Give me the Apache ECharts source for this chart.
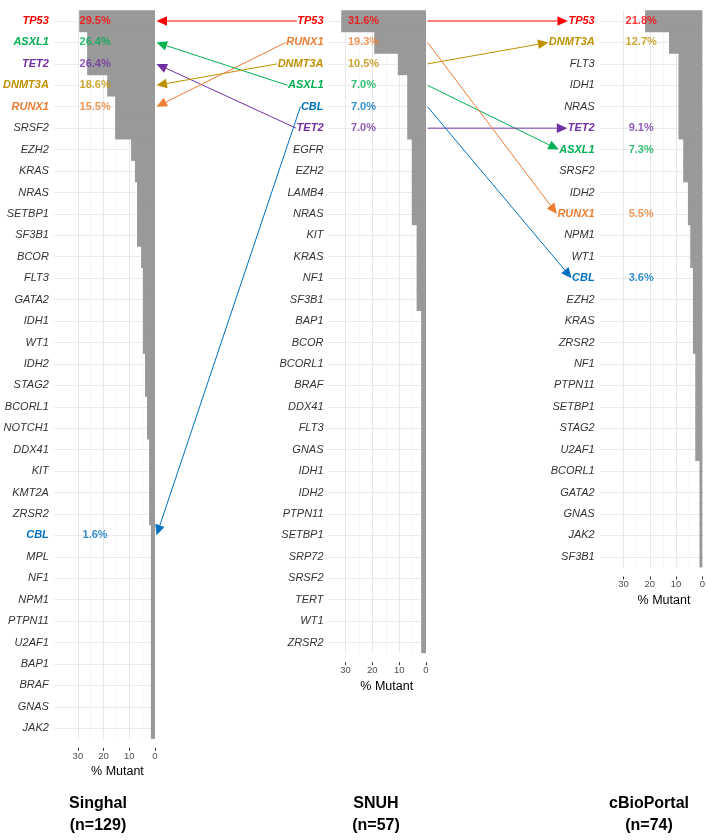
<!DOCTYPE html>
<html>
<head>
<meta charset="utf-8">
<script src="https://cdn.jsdelivr.net/npm/echarts@6/dist/echarts.min.js"></script>
<style>
html,body{margin:0;padding:0;background:#ffffff;}
#chart{width:708px;height:840px;}
</style>
</head>
<body>
<div id="chart"></div>
<script>
// ---------------- data ----------------
const singhalGenes = ['TP53','ASXL1','TET2','DNMT3A','RUNX1','SRSF2','EZH2','KRAS','NRAS','SETBP1','SF3B1','BCOR','FLT3','GATA2','IDH1','WT1','IDH2','STAG2','BCORL1','NOTCH1','DDX41','KIT','KMT2A','ZRSR2','CBL','MPL','NF1','NPM1','PTPN11','U2AF1','BAP1','BRAF','GNAS','JAK2'];
const singhalValues = [29.5,26.4,26.4,18.6,15.5,15.5,9.3,7.8,7.0,7.0,7.0,5.4,4.7,4.7,4.7,4.7,3.9,3.9,3.1,3.1,2.3,2.3,2.3,2.3,1.6,1.6,1.6,1.6,1.6,1.6,1.6,1.6,1.6,1.6];

const snuhGenes = ['TP53','RUNX1','DNMT3A','ASXL1','CBL','TET2','EGFR','EZH2','LAMB4','NRAS','KIT','KRAS','NF1','SF3B1','BAP1','BCOR','BCORL1','BRAF','DDX41','FLT3','GNAS','IDH1','IDH2','PTPN11','SETBP1','SRP72','SRSF2','TERT','WT1','ZRSR2'];
const snuhValues = [31.6,19.3,10.5,7.0,7.0,7.0,5.3,5.3,5.3,5.3,3.5,3.5,3.5,3.5,1.8,1.8,1.8,1.8,1.8,1.8,1.8,1.8,1.8,1.8,1.8,1.8,1.8,1.8,1.8,1.8];

const cbioGenes = ['TP53','DNMT3A','FLT3','IDH1','NRAS','TET2','ASXL1','SRSF2','IDH2','RUNX1','NPM1','WT1','CBL','EZH2','KRAS','ZRSR2','NF1','PTPN11','SETBP1','STAG2','U2AF1','BCORL1','GATA2','GNAS','JAK2','SF3B1'];
const cbioValues = [21.8,12.7,9.1,9.1,9.1,9.1,7.3,7.3,5.5,5.5,4.6,4.6,3.6,3.6,3.6,3.6,2.7,2.7,2.7,2.7,2.7,1.1,1.1,1.1,1.1,1.1];

const cohortNames = ['Singhal','SNUH','cBioPortal'];
const cohortSizes = ['(n=129)','(n=57)','(n=74)'];
const highlightGenes = ['TP53','ASXL1','TET2','DNMT3A','RUNX1','CBL'];
const highlightColors = ['#ff0000','#00b050','#7030a0','#bf9000','#ed7d31','#0070c0'];
const xTickValues = [0,10,20,30];
const axisTitle = '% Mutant';

// ---------------- style / layout ----------------
const FONT = '"Liberation Sans", Arial, Helvetica, sans-serif';
const ROW = 21.43, TOP = 10.3;
const PCT_X = 23.3;
const AH_LEN = 10.5, AH_W = 4.8;
const BAR_COLOR = '#999999';
const HL = {};
highlightGenes.forEach((g,i)=>{ HL[g] = highlightColors[i]; });

const panels = [
  {genes: singhalGenes, values: singhalValues, left: 52.5, zeroX: 155, k: 2.617, margin: 5.5, nameX: 98},
  {genes: snuhGenes, values: snuhValues, left: 328.5, zeroX: 426, k: 2.683, margin: 5, nameX: 376},
  {genes: cbioGenes, values: cbioValues, left: 600, zeroX: 704, k: 2.667, margin: 5.3, nameX: 649}
];

const rich = {};
highlightGenes.forEach(g=>{
  rich[g] = {color: HL[g], fontWeight: 'bold', fontStyle: 'italic', fontSize: 11, fontFamily: FONT};
});

const chart = echarts.init(document.getElementById('chart'), null, {renderer: 'canvas'});
const grids = [], xAxes = [], yAxes = [], series = [];

panels.forEach((p, i) => {
  const n = p.genes.length;
  const maxV = (p.zeroX - p.left) / p.k;
  grids.push({left: p.left, top: TOP, width: p.zeroX - p.left, height: n * ROW, containLabel: false});
  xAxes.push({
    gridIndex: i, type: 'value', min: 0, max: maxV, inverse: true, offset: 9,
    axisLine: {show: false},
    axisTick: {show: true, length: 3, customValues: xTickValues, lineStyle: {color: '#333', width: 1}},
    axisLabel: {customValues: xTickValues, fontSize: 9.5, color: '#4d4d4d', margin: 3, fontFamily: FONT},
    splitLine: {show: false}
  });
  yAxes.push({
    gridIndex: i, type: 'category', data: p.genes, inverse: true,
    axisLine: {show: false},
    axisTick: {show: true, alignWithLabel: true, interval: 0, length: 3.5, lineStyle: {color: '#333', width: 1}},
    axisLabel: {
      interval: 0, margin: p.margin, fontSize: 11, fontStyle: 'italic', color: '#333', fontFamily: FONT,
      formatter: v => HL[v] ? '{' + v + '|' + v + '}' : v,
      rich: rich
    },
    splitLine: {show: false}
  });

  const gridLines = [];
  [5,15,25].forEach(v => gridLines.push({xAxis: v, lineStyle: {color: '#f3f3f3', width: 0.8, type: 'solid'}}));
  [10,20,30].forEach(v => gridLines.push({xAxis: v, lineStyle: {color: '#e8e8e8', width: 1, type: 'solid'}}));
  p.genes.forEach((g, j) => gridLines.push({yAxis: j, lineStyle: {color: '#ebebeb', width: 1, type: 'solid'}}));

  series.push({
    type: 'bar', xAxisIndex: i, yAxisIndex: i,
    data: p.values, barWidth: ROW + 1.2, barGap: '-100%',
    itemStyle: {color: BAR_COLOR}, z: 3, silent: true,
    markLine: {silent: true, symbol: 'none', z: 1, label: {show: false}, animation: false, data: gridLines}
  });

  const pctData = [];
  p.genes.forEach((g, j) => {
    if (HL[g]) pctData.push({value: [PCT_X, j], label: {color: HL[g]}});
  });
  series.push({
    type: 'scatter', xAxisIndex: i, yAxisIndex: i, symbolSize: 1, z: 5, silent: true,
    itemStyle: {color: 'rgba(0,0,0,0)'},
    data: pctData,
    label: {
      show: true, position: 'inside', fontSize: 11, fontWeight: 'bold', fontFamily: FONT,
      formatter: prm => p.values[prm.value[1]].toFixed(1) + '%'
    }
  });
});

chart.setOption({animation: false, grid: grids, xAxis: xAxes, yAxis: yAxes, series: series});

// ---------------- annotations (positions from the chart's own scales) ----------------
const ctx = document.createElement('canvas').getContext('2d');
ctx.font = 'italic bold 11px ' + FONT;
const g = [];

panels.forEach((p, i) => {
  const bottom = TOP + p.genes.length * ROW;
  const cx = chart.convertToPixel({xAxisIndex: i}, 15);
  g.push({type: 'text', x: cx + 1, y: bottom + 33, z: 20,
    style: {text: axisTitle, font: '12.5px ' + FONT, fill: '#000', align: 'center', verticalAlign: 'middle'}});
  g.push({type: 'text', x: p.nameX, y: 804, z: 20,
    style: {text: cohortNames[i], font: 'bold 16px ' + FONT, fill: '#000', align: 'center', verticalAlign: 'middle'}});
  g.push({type: 'text', x: p.nameX, y: 826, z: 20,
    style: {text: cohortSizes[i], font: 'bold 16px ' + FONT, fill: '#000', align: 'center', verticalAlign: 'middle'}});
});

function rowY(pi, gene) {
  return chart.convertToPixel({yAxisIndex: pi}, panels[pi].genes.indexOf(gene));
}
function labelLeft(pi, gene) {
  const p = panels[pi];
  return p.left - p.margin - ctx.measureText(gene).width;
}
function arrow(x1, y1, x2, y2, color) {
  const dx = x2 - x1, dy = y2 - y1, L = Math.hypot(dx, dy);
  const ux = dx / L, uy = dy / L;
  const bx = x2 - ux * AH_LEN, by = y2 - uy * AH_LEN;
  const px = -uy, py = ux;
  g.push({type: 'line', z: 15, shape: {x1: x1, y1: y1, x2: bx, y2: by}, style: {stroke: color, lineWidth: 1}});
  g.push({type: 'polygon', z: 15, shape: {points: [[x2, y2], [bx + px * AH_W, by + py * AH_W], [bx - px * AH_W, by - py * AH_W]]}, style: {fill: color}});
}

const zero0 = chart.convertToPixel({xAxisIndex: 0}, 0);
const zero1 = chart.convertToPixel({xAxisIndex: 1}, 0);
highlightGenes.forEach(gene => {
  const col = HL[gene];
  // SNUH -> Singhal
  arrow(labelLeft(1, gene) - 0.5, rowY(1, gene), zero0 + 1.5, rowY(0, gene), col);
  // SNUH -> cBioPortal
  arrow(zero1 + 1.5, rowY(1, gene), labelLeft(2, gene) - 0.5, rowY(2, gene), col);
});

chart.setOption({graphic: g});
</script>
</body>
</html>
